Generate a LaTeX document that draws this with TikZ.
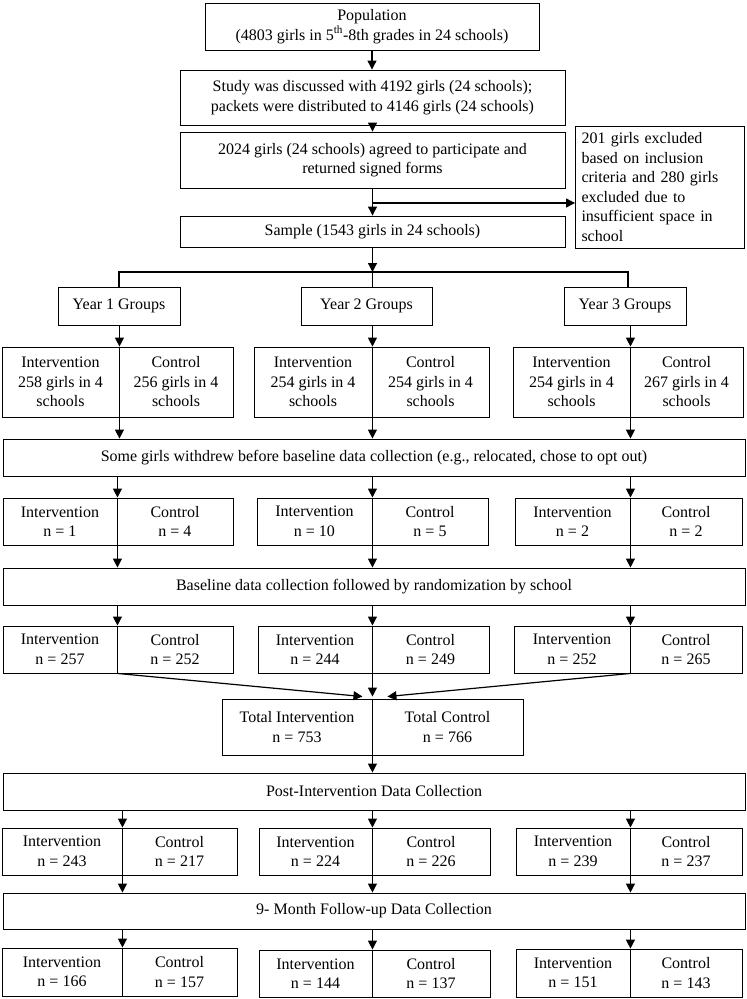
\documentclass[tikz,border=0pt]{standalone}
\usepackage{fontspec}
\setmainfont{Liberation Serif}
\usetikzlibrary{arrows.meta}
\newcommand\BoxAt[6]{\node[box, minimum width={(#4-#2)*1pt}, minimum height={(#5-#3)*1pt}] (#1) at ({(#2+#4)/2},{(#3+#5)/2}) {#6};}
\begin{document}
\begin{tikzpicture}[x=1pt,y=-1pt,
  every node/.style={font=\fontsize{16}{19.5}\selectfont, inner sep=2pt, align=center},
  box/.style={draw, line width=0.9pt},
  arr/.style={line width=1.2pt, -{Triangle[length=9pt,width=9pt]}},
  ln/.style={line width=1.1pt},
  mid/.style={line width=1.8pt}]
\useasboundingbox (0,0) rectangle (747,999);

% top part
\BoxAt{pop}{205}{3}{539}{50}{Population\\(4803 girls in 5\textsuperscript{th}-8th grades in 24 schools)}
\BoxAt{study}{180}{70}{565}{125}{Study was discussed with 4192 girls (24 schools);\\packets were distributed to 4146 girls (24 schools)}
\BoxAt{agree}{180}{132}{565}{188}{2024 girls (24 schools) agreed to participate and\\returned signed forms}
\BoxAt{sample}{180}{216}{565}{247}{Sample (1543 girls in 24 schools)}
\node[box, minimum height=122pt, text width=157pt, inner sep=6pt, align=left] (excl) at (660,187)
  {201 girls excluded\\based on inclusion\\criteria and 280 girls\\excluded due to\\insufficient space in\\school};

\draw[arr] (pop.south) -- (pop.south |- study.north);
\draw[arr] (study.south) -- (agree.north);
\draw[arr] (agree.south) -- (sample.north);
\coordinate (ex) at (agree.south |- 0,203);
\draw[arr] (ex) -- (ex -| excl.west);

% year groups
\BoxAt{y1}{58}{287}{180}{325}{Year 1 Groups}
\BoxAt{y2}{301}{287}{432}{325}{Year 2 Groups}
\BoxAt{y3}{564}{287}{686}{325}{Year 3 Groups}
\coordinate (br) at (sample.south |- 0,272);
\draw[arr] (sample.south) -- (br);
\draw[ln] (y1.north) |- (br) -| ([xshift=3pt]y3.north);
\draw[ln] (br) -- (br |- y2.north);

% row a
\BoxAt{aL1}{2}{347}{119}{417}{Intervention\\258 girls in 4\\schools}
\BoxAt{aR1}{119}{347}{233}{417}{Control\\256 girls in 4\\schools}
\BoxAt{aL2}{254}{347}{372}{417}{Intervention\\254 girls in 4\\schools}
\BoxAt{aR2}{372}{347}{489}{417}{Control\\254 girls in 4\\schools}
\BoxAt{aL3}{513}{347}{630}{417}{Intervention\\254 girls in 4\\schools}
\BoxAt{aR3}{630}{347}{743}{417}{Control\\267 girls in 4\\schools}
\draw[arr] (aL1.north east |- y1.south) -- (aL1.north east);
\draw[arr] (aL2.north east |- y2.south) -- (aL2.north east);
\draw[arr] (aL3.north east |- y3.south) -- (aL3.north east);

% withdraw
\BoxAt{wd}{3}{439}{745}{476}{Some girls withdrew before baseline data collection (e.g., relocated, chose to opt out)}

% row b
\BoxAt{bL1}{3}{498}{117}{545}{Intervention\\n = 1}
\BoxAt{bR1}{117}{498}{233}{545}{Control\\n = 4}
\BoxAt{bL2}{257}{498}{372}{545}{Intervention\\n = 10}
\BoxAt{bR2}{372}{498}{488}{545}{Control\\n = 5}
\BoxAt{bL3}{515}{498}{630}{545}{Intervention\\n = 2}
\BoxAt{bR3}{630}{498}{742}{545}{Control\\n = 2}

% baseline
\BoxAt{base}{3}{568}{745}{605}{Baseline data collection followed by randomization by school}

% row c
\BoxAt{cL1}{3}{626}{117}{673}{Intervention\\n = 257}
\BoxAt{cR1}{117}{626}{233}{673}{Control\\n = 252}
\BoxAt{cL2}{258}{626}{372}{673}{Intervention\\n = 244}
\BoxAt{cR2}{372}{626}{489}{673}{Control\\n = 249}
\BoxAt{cL3}{514}{626}{630}{673}{Intervention\\n = 252}
\BoxAt{cR3}{630}{626}{742}{673}{Control\\n = 265}

% total
\BoxAt{totL}{222}{699}{372}{755}{Total Intervention\\n = 753}
\BoxAt{totR}{372}{699}{523}{755}{Total Control\\n = 766}

% post
\BoxAt{post}{3}{773}{745}{810}{Post-Intervention Data Collection}

% row d
\BoxAt{dL1}{2}{828}{122}{875}{Intervention\\n = 243}
\BoxAt{dR1}{122}{828}{237}{875}{Control\\n = 217}
\BoxAt{dL2}{259}{828}{372}{875}{Intervention\\n = 224}
\BoxAt{dR2}{372}{828}{490}{875}{Control\\n = 226}
\BoxAt{dL3}{516}{828}{630}{875}{Intervention\\n = 239}
\BoxAt{dR3}{630}{828}{742}{875}{Control\\n = 237}

% follow-up
\BoxAt{fu}{3}{893}{745}{929}{9- Month Follow-up Data Collection}

% row e
\BoxAt{eL1}{2}{948}{122}{996}{Intervention\\n = 166}
\BoxAt{eR1}{122}{948}{237}{996}{Control\\n = 157}
\BoxAt{eL2}{259}{950}{372}{997}{Intervention\\n = 144}
\BoxAt{eR2}{372}{950}{490}{997}{Control\\n = 137}
\BoxAt{eL3}{516}{949}{630}{997}{Intervention\\n = 151}
\BoxAt{eR3}{630}{949}{742}{997}{Control\\n = 143}

% column connectors
\foreach \k in {1,2,3}{
  \draw[arr] (aL\k.south east) -- (aL\k.south east |- wd.north);
  \draw[arr] (bL\k.north east |- wd.south) -- (bL\k.north east);
  \draw[arr] (bL\k.south east) -- (bL\k.south east |- base.north);
  \draw[arr] (cL\k.north east |- base.south) -- (cL\k.north east);
  \draw[arr] (dL\k.north east |- post.south) -- (dL\k.north east);
  \draw[arr] (dL\k.south east) -- (dL\k.south east |- fu.north);
  \draw[arr] (eL\k.north east |- fu.south) -- (eL\k.north east);
}
\draw[arr] (cL1.south east) -- ([xshift=-10pt,yshift=2pt]totL.north east);
\draw[arr] (cL2.south east) -- ([yshift=2pt]totL.north east);
\draw[arr] (cL3.south east) -- ([xshift=15pt,yshift=2pt]totL.north east);
\draw[arr] (totL.south east) -- (totL.south east |- post.north);

% thick middle dividers
\foreach \r in {a,b,c,d,e}{
  \draw[mid] (\r L2.north east) -- (\r L2.south east);
}
\draw[mid] (totL.north east) -- (totL.south east);
\draw[mid] (dL1.north east) -- (dL1.south east);
\draw[mid] (eL1.north east) -- (eL1.south east);
\end{tikzpicture}
\end{document}
